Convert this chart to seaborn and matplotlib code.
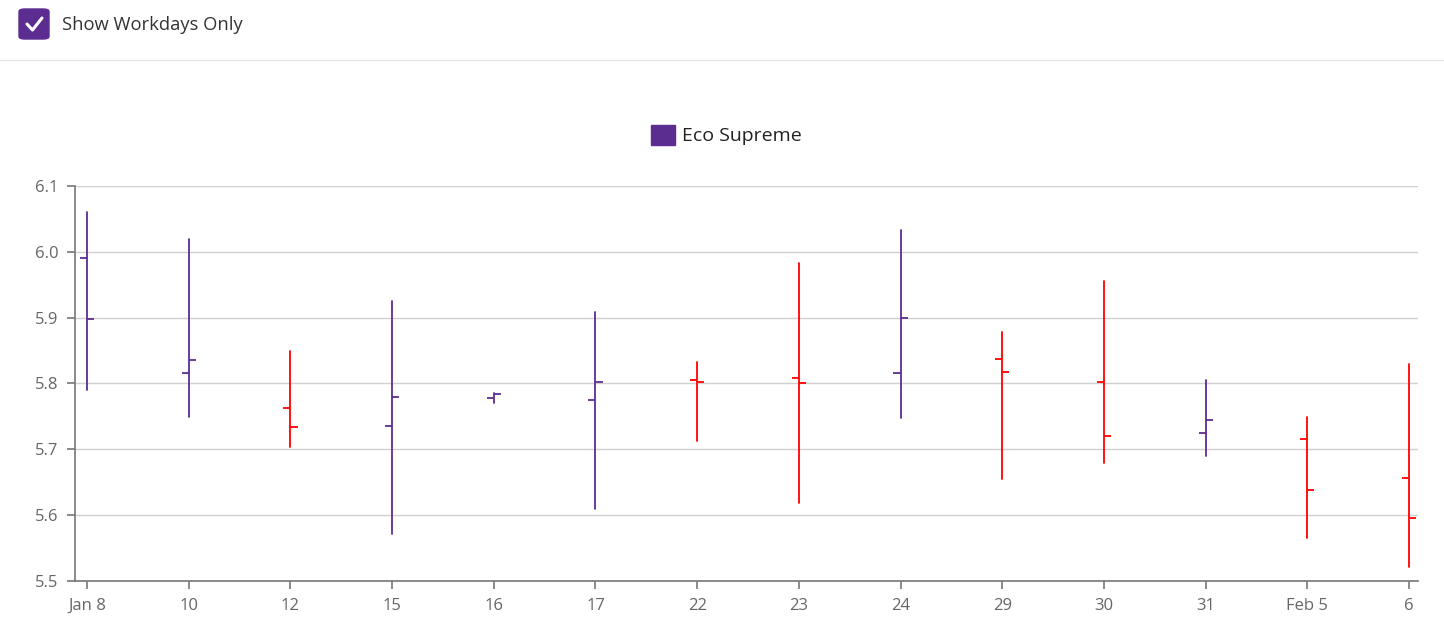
import numpy as np
import pandas as pd
import matplotlib
matplotlib.use("Agg")
import matplotlib.pyplot as plt
import seaborn as sns
from matplotlib.patches import Patch, FancyBboxPatch
from matplotlib.lines import Line2D

# ---- data ----
dates = ["Jan 8", "10", "12", "15", "16", "17", "22", "23", "24", "29", "30", "31", "Feb 5", "6"]
open_ = [5.991, 5.816, 5.763, 5.736, 5.778, 5.775, 5.805, 5.809, 5.816, 5.837, 5.802, 5.725, 5.716, 5.656]
high = [6.061, 6.019, 5.850, 5.926, 5.786, 5.908, 5.832, 5.983, 6.033, 5.878, 5.956, 5.805, 5.749, 5.830]
low = [5.790, 5.749, 5.704, 5.571, 5.770, 5.610, 5.712, 5.619, 5.747, 5.655, 5.680, 5.690, 5.566, 5.521]
close = [5.898, 5.836, 5.734, 5.780, 5.784, 5.802, 5.802, 5.800, 5.900, 5.818, 5.720, 5.745, 5.638, 5.595]
series_name = "Eco Supreme"

PURPLE = "#5C2D91"
RED = "#FF0000"

sns.set_theme(style="white")
plt.rcParams["font.family"] = ["Open Sans", "DejaVu Sans"]

W, H = 1444, 636
fig = plt.figure(figsize=(W / 100, H / 100), dpi=100)
ax = fig.add_axes([75 / W, 1 - 581 / H, (1418 - 75) / W, (581 - 186) / H])

n = len(dates)
pos = np.arange(n)
colors = [PURPLE if (c >= o or i == 0) else RED for i, (o, c) in enumerate(zip(open_, close))]

# high-low lines via seaborn
rows = []
for i in range(n):
    rows.append({"pos": pos[i], "val": high[i], "bar": i, "col": colors[i]})
    rows.append({"pos": pos[i], "val": low[i], "bar": i, "col": colors[i]})
df = pd.DataFrame(rows)
sns.lineplot(data=df, x="pos", y="val", units="bar", estimator=None, hue="col",
             palette={PURPLE: PURPLE, RED: RED}, sort=False, legend=False,
             linewidth=1.3, ax=ax, zorder=3)

tick = 0.07
ax.hlines(open_, pos - tick, pos, colors=colors, linewidth=1.3, zorder=3)
ax.hlines(close, pos, pos + tick, colors=colors, linewidth=1.3, zorder=3)

ax.set_xlim(-0.118, 13.088)
ax.set_ylim(5.5, 6.1)
ax.set_yticks([5.5, 5.6, 5.7, 5.8, 5.9, 6.0, 6.1])
ax.set_yticklabels(["5.5", "5.6", "5.7", "5.8", "5.9", "6.0", "6.1"])
ax.set_xticks(pos)
ax.set_xticklabels(dates)
ax.set_xlabel("")
ax.set_ylabel("")

ax.yaxis.grid(True, color="#d0d0d0", linewidth=1.0)
ax.xaxis.grid(False)
ax.set_axisbelow(True)
for s in ["top", "right"]:
    ax.spines[s].set_visible(False)
for s in ["left", "bottom"]:
    ax.spines[s].set_color("#777777")
    ax.spines[s].set_linewidth(1.2)
ax.tick_params(axis="both", which="both", direction="out", length=6, width=1.2,
               color="#777777", labelcolor="#666666", labelsize=12, pad=6,
               left=True, bottom=True)

# legend
fig.legend(handles=[Patch(facecolor=PURPLE, edgecolor=PURPLE)], labels=[series_name],
           loc="center", bbox_to_anchor=(726 / W, 1 - 135 / H), frameon=False,
           fontsize=14, handlelength=1.25, handleheight=1.25, handletextpad=0.35,
           labelcolor="#222222")

# top checkbox UI
box = FancyBboxPatch((19 / W, 1 - 39 / H), 30 / W, 30 / H,
                     boxstyle="round,pad=0,rounding_size=0.004",
                     transform=fig.transFigure, facecolor=PURPLE, edgecolor=PURPLE)
fig.patches.append(box)
fig.lines.append(Line2D([27 / W, 32.5 / W, 42 / W], [1 - 24 / H, 1 - 30 / H, 1 - 18 / H],
                        transform=fig.transFigure, color="white", linewidth=2.2,
                        solid_capstyle="round", solid_joinstyle="round"))
fig.text(62 / W, 1 - 25 / H, "Show Workdays Only", ha="left", va="center",
         fontsize=13.2, color="#333333")
fig.lines.append(Line2D([0, 1], [1 - 59.5 / H, 1 - 59.5 / H], transform=fig.transFigure,
                        color="#e6e6e6", linewidth=1.0))

fig.savefig("out.png", dpi=100)
